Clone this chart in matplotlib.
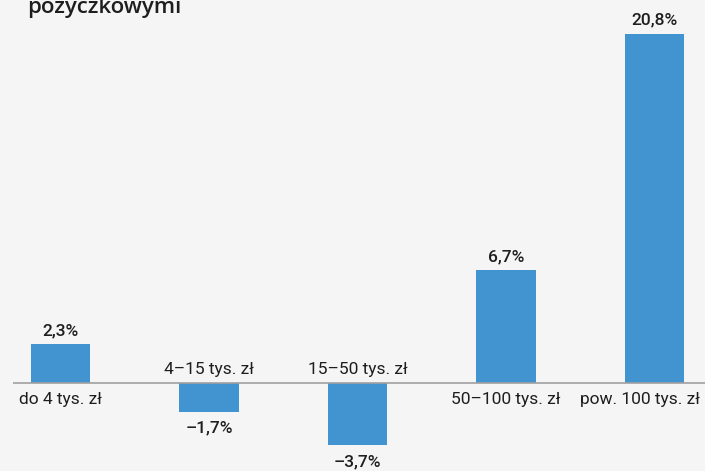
import matplotlib
matplotlib.use("Agg")
import matplotlib.pyplot as plt

categories = ["do 4 tys. zł", "4–15 tys. zł", "15–50 tys. zł", "50–100 tys. zł", "pow. 100 tys. zł"]
values = [2.3, -1.7, -3.7, 6.7, 20.8]
value_labels = ["2,3%", "–1,7%", "–3,7%", "6,7%", "20,8%"]
title_text = "pożyczkowymi"

BG = "#f5f5f5"
BAR = "#4194cf"
TXT = "#1e1e1e"

fig = plt.figure(figsize=(7.05, 4.71), dpi=100, facecolor=BG)
ax = fig.add_axes([13 / 705, 0, (705 - 13) / 705, 1])
ax.set_facecolor(BG)

x = list(range(len(values)))
ax.bar(x, values, width=0.4, color=BAR, zorder=2)
ax.axhline(0, color="#a0a0a0", linewidth=1.2, zorder=3)

ax.set_xlim(-0.318, 4.338)
ax.set_ylim(-5.238, 22.798)
ax.axis("off")

font = "Roboto"
n = len(values)
for i, (xi, v, lab, cat) in enumerate(zip(x, values, value_labels, categories)):
    dx = -15 if i == n - 1 else 0
    if v >= 0:
        ax.annotate(lab, (xi, v), xytext=(0, 6), textcoords="offset pixels",
                    ha="center", va="bottom", fontsize=12.5, color=TXT,
                    family=font, fontweight="medium")
        ax.annotate(cat, (xi, 0), xytext=(dx, -9), textcoords="offset pixels",
                    ha="center", va="top", fontsize=12.5, color=TXT,
                    family=font, fontweight="normal")
    else:
        ax.annotate(lab, (xi, v), xytext=(0, -9), textcoords="offset pixels",
                    ha="center", va="top", fontsize=12.5, color=TXT,
                    family=font, fontweight="medium")
        ax.annotate(cat, (xi, 0), xytext=(dx, 6), textcoords="offset pixels",
                    ha="center", va="bottom", fontsize=12.5, color=TXT,
                    family=font, fontweight="normal")

fig.text(27 / 705, 1 - 13 / 471, title_text, ha="left", va="baseline",
         fontsize=16, color=TXT, family="Open Sans", fontweight="semibold")

fig.savefig("out.png", dpi=100, facecolor=BG)
